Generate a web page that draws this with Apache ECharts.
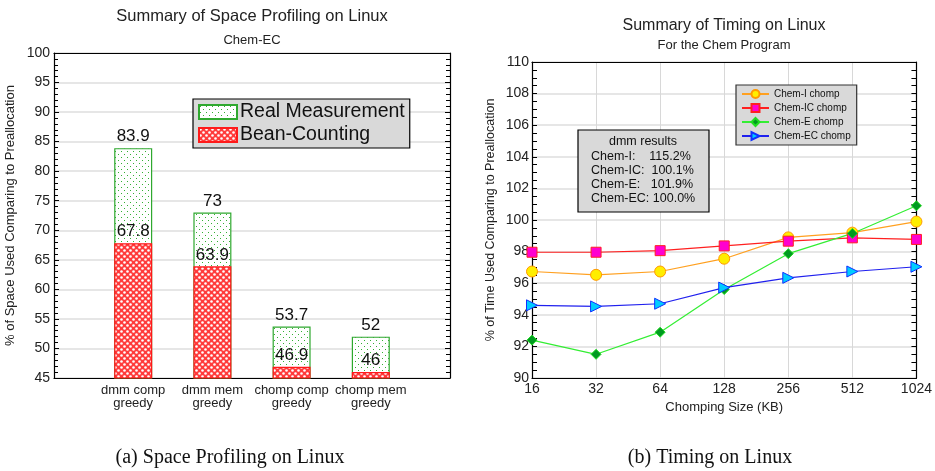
<!DOCTYPE html>
<html>
<head>
<meta charset="utf-8">
<script src="https://cdn.jsdelivr.net/npm/echarts@6/dist/echarts.min.js"></script>
<style>
html,body{margin:0;padding:0;background:#fff;}
#c{width:935px;height:471px;}
</style>
</head>
<body>
<div id="c"></div>
<script>
// ---- Data: left chart (space profiling) ----
var spaceCategories = ['dmm comp\ngreedy', 'dmm mem\ngreedy', 'chomp comp\ngreedy', 'chomp mem\ngreedy'];
var realMeasurement = [83.9, 73, 53.7, 52];
var beanCounting = [67.8, 63.9, 46.9, 46];

// ---- Data: right chart (timing) ----
var chompSizes = ['16', '32', '64', '128', '256', '512', '1024'];
var chemI = [96.74, 96.53, 96.74, 97.55, 98.9, 99.2, 99.9];
var chemIC = [97.96, 97.96, 98.06, 98.36, 98.66, 98.87, 98.77];
var chemE = [92.4, 91.5, 92.9, 95.6, 97.87, 99.15, 100.9];
var chemEC = [94.6, 94.53, 94.7, 95.72, 96.34, 96.74, 97.04];
var dmmLines = ['Chem-I:    115.2%', 'Chem-IC:  100.1%', 'Chem-E:   101.9%', 'Chem-EC: 100.0%'];

var FONT = '"Liberation Sans", Arial, sans-serif';

function makePattern(kind) {
  var cv = document.createElement('canvas');
  var ctx;
  if (kind === 'red') {
    cv.width = 6; cv.height = 6;
    ctx = cv.getContext('2d');
    ctx.fillStyle = '#ff3b3b';
    ctx.fillRect(0, 0, 6, 6);
    ctx.fillStyle = '#ffffff';
    ctx.beginPath(); ctx.arc(1.5, 1.5, 1.3, 0, Math.PI * 2); ctx.fill();
    ctx.beginPath(); ctx.arc(4.5, 4.5, 1.3, 0, Math.PI * 2); ctx.fill();
  } else {
    cv.width = 6; cv.height = 6;
    ctx = cv.getContext('2d');
    ctx.fillStyle = '#ffffff';
    ctx.fillRect(0, 0, 6, 6);
    ctx.fillStyle = '#33b033';
    ctx.fillRect(1, 1, 1, 1);
    ctx.fillRect(4, 4, 1, 1);
  }
  return { image: cv, repeat: 'repeat' };
}

var leftAxisData = [''].concat(spaceCategories).concat(['']);
var realData = [null].concat(realMeasurement).concat([null]);
var beanData = [null].concat(beanCounting).concat([null]);

var chart = echarts.init(document.getElementById('c'), null, { renderer: 'canvas' });

var dmmGraphic = [];
dmmGraphic.push({
  type: 'rect', shape: { x: 578, y: 130, width: 131, height: 82 },
  style: { fill: '#d9d9d9', stroke: '#000', lineWidth: 1.2 }, z: 10
});
dmmGraphic.push({
  type: 'text', x: 643, y: 142, z: 11,
  style: { text: 'dmm results', font: '12.5px ' + FONT, fill: '#111', textAlign: 'center', textVerticalAlign: 'middle' }
});
dmmLines.forEach(function (t, i) {
  dmmGraphic.push({
    type: 'text', x: 591, y: 157 + i * 13.7, z: 11,
    style: { text: t, font: '12.5px ' + FONT, fill: '#111', textAlign: 'left', textVerticalAlign: 'middle' }
  });
});
dmmGraphic.push({
  type: 'text', x: 230, y: 458, z: 11,
  style: { text: '(a) Space Profiling on Linux', font: '20px "Liberation Serif", "Times New Roman", serif', fill: '#111', textAlign: 'center', textVerticalAlign: 'middle' }
});
dmmGraphic.push({
  type: 'text', x: 710, y: 458, z: 11,
  style: { text: '(b) Timing on Linux', font: '20px "Liberation Serif", "Times New Roman", serif', fill: '#111', textAlign: 'center', textVerticalAlign: 'middle' }
});

var option = {
  backgroundColor: '#fff',
  animation: false,
  textStyle: { fontFamily: FONT },
  title: [
    {
      text: 'Summary of Space Profiling on Linux', subtext: 'Chem-EC',
      left: 252, top: 8, textAlign: 'center', padding: 0, itemGap: 9,
      textStyle: { fontSize: 16.5, fontWeight: 'normal', color: '#222', fontFamily: FONT },
      subtextStyle: { fontSize: 13, color: '#222', fontFamily: FONT }
    },
    {
      text: 'Summary of Timing on Linux', subtext: 'For the Chem Program',
      left: 724, top: 18, textAlign: 'center', padding: 0, itemGap: 5,
      textStyle: { fontSize: 16, fontWeight: 'normal', color: '#222', fontFamily: FONT },
      subtextStyle: { fontSize: 13, color: '#222', fontFamily: FONT }
    }
  ],
  legend: [
    {
      data: ['Real Measurement', 'Bean-Counting'],
      orient: 'vertical', left: 193, top: 99,
      backgroundColor: '#d9d9d9', borderColor: '#000', borderWidth: 1.2,
      padding: [3, 5, 3, 5], itemGap: 3,
      itemWidth: 38, itemHeight: 14, icon: 'rect',
      textStyle: { fontSize: 19.5, color: '#111', fontFamily: FONT, padding: [0, 0, 0, -2] },
      selectedMode: false
    },
    {
      data: ['Chem-I chomp', 'Chem-IC chomp', 'Chem-E chomp', 'Chem-EC chomp'],
      orient: 'vertical', left: 736, top: 85,
      backgroundColor: '#d9d9d9', borderColor: '#333', borderWidth: 1.2,
      padding: [4, 6, 4, 5], itemGap: 4,
      itemWidth: 27, itemHeight: 10,
      textStyle: { fontSize: 10, color: '#111', fontFamily: FONT },
      selectedMode: false
    }
  ],
  grid: [
    { left: 54, top: 53, width: 396, height: 325, containLabel: false },
    { left: 532, top: 62, width: 385, height: 316, containLabel: false }
  ],
  xAxis: [
    {
      type: 'category', gridIndex: 0, data: leftAxisData, boundaryGap: false,
      axisLine: { show: true, lineStyle: { color: '#000', width: 1.2 } },
      axisTick: { show: false },
      axisLabel: { fontSize: 13, lineHeight: 13, color: '#222', margin: 6, fontFamily: FONT, interval: 0 },
      splitLine: { show: false }
    },
    {
      type: 'category', gridIndex: 0, data: leftAxisData, boundaryGap: false, position: 'top',
      axisLine: { show: true, lineStyle: { color: '#000', width: 1.2 } },
      axisTick: { show: false }, axisLabel: { show: false }, splitLine: { show: false }
    },
    {
      type: 'category', gridIndex: 1, data: chompSizes, boundaryGap: false,
      name: 'Chomping Size (KB)', nameLocation: 'middle', nameGap: 20,
      nameTextStyle: { fontSize: 13, color: '#222', fontFamily: FONT },
      axisLine: { show: true, lineStyle: { color: '#000', width: 1.2 } },
      axisTick: { show: false },
      axisLabel: { fontSize: 14, color: '#222', margin: 4, fontFamily: FONT, interval: 0 },
      splitLine: { show: true, lineStyle: { color: '#d8d8d8', width: 1 } }
    },
    {
      type: 'category', gridIndex: 1, data: chompSizes, boundaryGap: false, position: 'top',
      axisLine: { show: true, lineStyle: { color: '#000', width: 1.2 } },
      axisTick: { show: false }, axisLabel: { show: false }, splitLine: { show: false }
    }
  ],
  yAxis: [
    {
      type: 'value', gridIndex: 0, min: 45, max: 100, interval: 5,
      name: '% of Space Used Comparing to Preallocation', nameLocation: 'middle', nameGap: 37,
      nameTextStyle: { fontSize: 13, color: '#222', fontFamily: FONT },
      axisLine: { show: true, lineStyle: { color: '#000', width: 1.2 } },
      axisTick: { show: true, inside: true, length: 5, lineStyle: { color: '#000' } },
      minorTick: { show: true, splitNumber: 5, length: 4, lineStyle: { color: '#000' } },
      axisLabel: { fontSize: 14, color: '#222', margin: 4, fontFamily: FONT },
      splitLine: { show: true, lineStyle: { color: '#dedede', width: 1.5 } }
    },
    {
      type: 'value', gridIndex: 0, min: 45, max: 100, interval: 5, position: 'right',
      axisLine: { show: true, lineStyle: { color: '#000', width: 1.2 } },
      axisTick: { show: true, inside: true, length: 5, lineStyle: { color: '#000' } },
      minorTick: { show: true, splitNumber: 5, length: 4, lineStyle: { color: '#000' } },
      axisLabel: { show: false }, splitLine: { show: false }
    },
    {
      type: 'value', gridIndex: 1, min: 90, max: 110, interval: 2,
      name: '% of Time Used Comparing to Preallocation', nameLocation: 'middle', nameGap: 35,
      nameTextStyle: { fontSize: 12.5, color: '#222', fontFamily: FONT },
      axisLine: { show: true, lineStyle: { color: '#000', width: 1.2 } },
      axisTick: { show: true, inside: true, length: 5, lineStyle: { color: '#000' } },
      minorTick: { show: true, splitNumber: 4, length: 5, lineStyle: { color: '#000' } },
      axisLabel: { fontSize: 14, color: '#222', margin: 3, fontFamily: FONT },
      splitLine: { show: true, lineStyle: { color: '#dedede', width: 1.5 } }
    },
    {
      type: 'value', gridIndex: 1, min: 90, max: 110, interval: 2, position: 'right',
      axisLine: { show: true, lineStyle: { color: '#000', width: 1.2 } },
      axisTick: { show: true, inside: true, length: 5, lineStyle: { color: '#000' } },
      minorTick: { show: true, splitNumber: 4, length: 5, lineStyle: { color: '#000' } },
      axisLabel: { show: false }, splitLine: { show: false }
    }
  ],
  series: [
    {
      name: 'Real Measurement', type: 'bar', xAxisIndex: 0, yAxisIndex: 0,
      data: realData, barWidth: 38, barGap: '-100%',
      itemStyle: { color: makePattern('green'), borderColor: '#2fa82f', borderWidth: 1.2 },
      label: { show: true, position: 'top', distance: 3, fontSize: 17, color: '#111', fontFamily: FONT }
    },
    {
      name: 'Bean-Counting', type: 'bar', xAxisIndex: 0, yAxisIndex: 0,
      data: beanData, barWidth: 38, barGap: '-100%',
      itemStyle: { color: makePattern('red'), borderColor: '#ff1a1a', borderWidth: 1.2 },
      label: { show: true, position: 'top', distance: 3, fontSize: 17, color: '#111', fontFamily: FONT }
    },
    {
      name: 'Chem-I chomp', type: 'line', xAxisIndex: 2, yAxisIndex: 2, data: chemI,
      symbol: 'circle', symbolSize: 11,
      lineStyle: { color: '#ffa020', width: 1.2 },
      itemStyle: { color: '#ffee00', borderColor: '#ff9900', borderWidth: 1 }
    },
    {
      name: 'Chem-IC chomp', type: 'line', xAxisIndex: 2, yAxisIndex: 2, data: chemIC,
      symbol: 'rect', symbolSize: 10,
      lineStyle: { color: '#ff2020', width: 1.2 },
      itemStyle: { color: '#ff00d0', borderColor: '#ff2020', borderWidth: 1 }
    },
    {
      name: 'Chem-E chomp', type: 'line', xAxisIndex: 2, yAxisIndex: 2, data: chemE,
      symbol: 'diamond', symbolSize: 10,
      lineStyle: { color: '#33ee33', width: 1.2 },
      itemStyle: { color: '#009a20', borderColor: '#22dd22', borderWidth: 1 }
    },
    {
      name: 'Chem-EC chomp', type: 'line', xAxisIndex: 2, yAxisIndex: 2, data: chemEC,
      symbol: 'triangle', symbolSize: 11, symbolRotate: -90,
      lineStyle: { color: '#2020ee', width: 1.2 },
      itemStyle: { color: '#00ccff', borderColor: '#1030ff', borderWidth: 1 }
    }
  ],
  graphic: dmmGraphic
};

chart.setOption(option);
</script>
</body>
</html>
